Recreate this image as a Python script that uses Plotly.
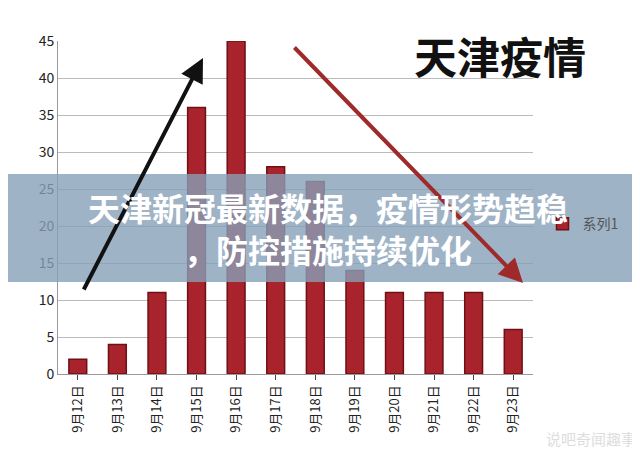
import plotly.graph_objects as go

dates = ['9月12日', '9月13日', '9月14日', '9月15日', '9月16日', '9月17日',
         '9月18日', '9月19日', '9月20日', '9月21日', '9月22日', '9月23日']
cases = [2, 4, 11, 36, 45, 28, 26, 14, 11, 11, 11, 6]

fig = go.Figure()
fig.add_trace(go.Bar(x=dates, y=cases, name='系列1', width=0.45,
                     marker=dict(color='#a8232b', line=dict(color='#6e1015', width=1.5))))


def px(x, y):
    # pixel position -> paper coords for the decorations
    return (x - 50) / 475, (366 - y) / 333


ax, ay = px(75, 283)
hx, hy = px(195, 50)
fig.add_annotation(x=hx, y=hy, ax=ax, ay=ay, xref='x domain', yref='y domain',
                   axref='x domain', ayref='y domain', showarrow=True, arrowhead=2,
                   arrowsize=1.2, arrowwidth=4, arrowcolor='#111', text='')
ax, ay = px(285, 38)
hx, hy = px(515, 275)
fig.add_annotation(x=hx, y=hy, ax=ax, ay=ay, xref='x domain', yref='y domain',
                   axref='x domain', ayref='y domain', showarrow=True, arrowhead=2,
                   arrowsize=1.2, arrowwidth=4, arrowcolor='#9e2a2a', text='')

fig.add_annotation(text='<b>天津疫情</b>', x=px(580, 0)[0], y=px(0, 14)[1],
                   xref='paper', yref='paper',
                   xanchor='right', yanchor='top', showarrow=False,
                   font=dict(size=43, color='#111', family='Noto Sans CJK SC'))

# banner across the middle
fig.add_shape(type='rect', xref='paper', yref='paper', x0=-0.2, x1=1.3,
              y0=px(0, 274)[1], y1=px(0, 166)[1], fillcolor='rgba(135,160,185,0.8)',
              line_width=0, layer='above')
fig.add_annotation(text='<b>天津新冠最新数据，疫情形势趋稳<br>，防控措施持续优化</b>',
                   x=px(320, 0)[0], y=px(0, 220)[1], xref='paper', yref='paper',
                   showarrow=False, font=dict(size=32, color='white', family='Noto Sans CJK SC'))
fig.add_annotation(text='说吧奇闻趣事', x=1.22, y=-0.23, xref='paper', yref='paper',
                   xanchor='right', showarrow=False,
                   font=dict(size=15, color='#ddd', family='Noto Sans CJK SC'))

fig.update_layout(
    width=640, height=454, margin=dict(l=50, r=115, t=33, b=88),
    paper_bgcolor='white', plot_bgcolor='white',
    font=dict(family='Noto Sans CJK SC', size=13, color='#333'),
    showlegend=True,
    legend=dict(x=1.02, y=0.45, yanchor='middle', bgcolor='rgba(0,0,0,0)',
                font=dict(size=14, color='#555')),
    xaxis=dict(tickangle=-90, showline=True, linecolor='#999', ticks='outside',
               tickfont=dict(size=13, color='#222')),
    yaxis=dict(range=[0, 45], dtick=5, gridcolor='#bbb', showline=True, linecolor='#999',
               tickfont=dict(size=14, color='#222')),
)

fig.write_html('out.html')
